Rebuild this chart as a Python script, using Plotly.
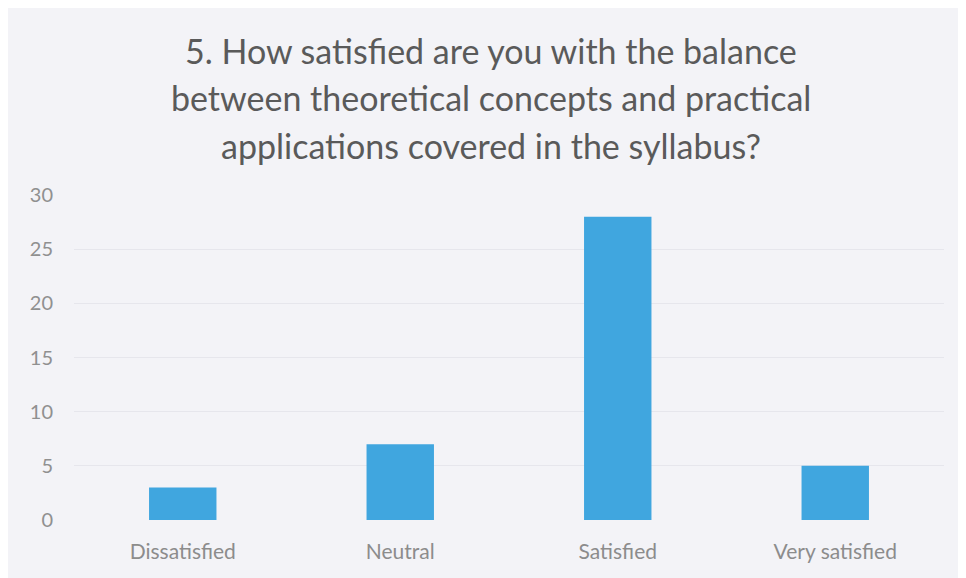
import plotly.graph_objects as go

categories = ["Dissatisfied", "Neutral", "Satisfied", "Very satisfied"]
counts = [3, 7, 28, 5]
y_ticks = [0, 5, 10, 15, 20, 25, 30]

title_lines = [
    "5. How satisfied are you with the balance",
    "between theoretical concepts and practical",
    "applications covered in the syllabus?",
]
title_y = [1.446, 1.30, 1.152]

fig = go.Figure(go.Bar(
    x=categories, y=counts,
    marker=dict(color="#40a6df", line=dict(width=0)),
    width=0.31,
))

for txt, yy in zip(title_lines, title_y):
    fig.add_annotation(
        text=txt, xref="paper", yref="paper", x=0.479, y=yy,
        xanchor="center", yanchor="middle", showarrow=False,
        font=dict(size=34, color="#5a5a5a", family="Lato, Open Sans, sans-serif"),
    )

fig.update_layout(
    width=966, height=578,
    paper_bgcolor="#f3f3f7",
    plot_bgcolor="#f3f3f7",
    margin=dict(l=66, r=30, t=187, b=66),
    showlegend=False,
    font=dict(family="Lato, Open Sans, sans-serif", color="#8a8a8a"),
)
fig.update_xaxes(
    showgrid=False, showline=False, ticks="",
    tickfont=dict(size=21, color="#8c8c8c"),
    ticklabelstandoff=17,
)
fig.update_yaxes(
    range=[0, 30], tickvals=y_ticks,
    showgrid=True, gridcolor="#e6e6ec", gridwidth=1,
    zeroline=False, showline=False, ticks="",
    tickfont=dict(size=20, color="#909090"),
    ticklabelstandoff=20,
)

fig.write_html("out.html")
